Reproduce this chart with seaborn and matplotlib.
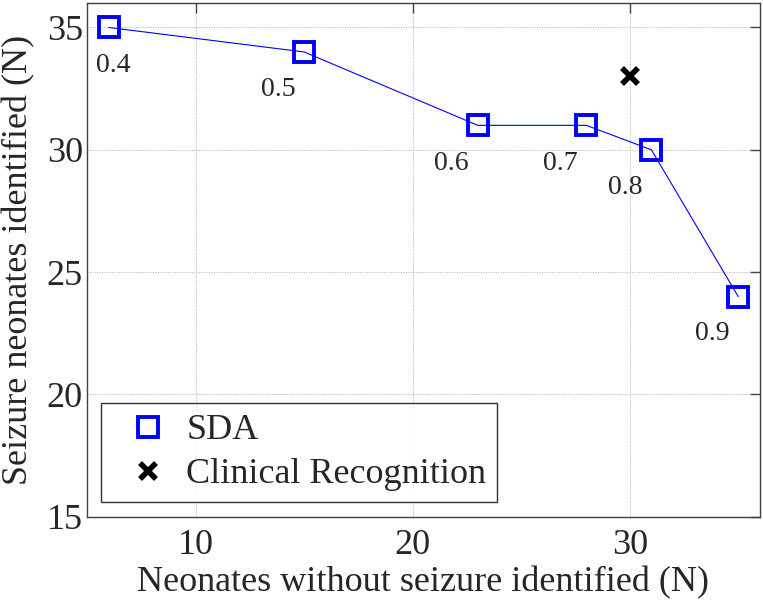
import numpy as np
import pandas as pd
import seaborn as sns
import matplotlib.pyplot as plt

sns.set_style("white")
plt.rcParams['font.family'] = ['Liberation Serif', 'DejaVu Serif']


# DATOS
sda_x      = [6, 15, 23, 28, 31, 35]
sda_y      = [35, 34, 31, 31, 30, 24]
thresholds = ["0.4", "0.5", "0.6", "0.7", "0.8", "0.9"]
label_x    = [6.2, 13.8, 21.8, 26.8, 29.8, 33.8]
label_y    = [33.45, 32.45, 29.45, 29.45, 28.45, 22.5]
clin_x     = [30]
clin_y     = [33]


def graficar(filename):

    fig = plt.figure(figsize=(7.63, 6.03), dpi=100)
    ax  = fig.add_axes([0.114, 0.143, 0.882, 0.852])

    df   = pd.DataFrame({"x": sda_x, "y": sda_y})
    clin = pd.DataFrame({"x": clin_x, "y": clin_y})

    sns.lineplot(data=df, x="x", y="y", color=(0, 0, 1), linewidth=0.8,
                 ax=ax, legend=False, zorder=2)
    ax.plot(df["x"], df["y"], linestyle="none", marker="s", markersize=15,
            markerfacecolor="none", markeredgecolor=(0, 0, 1),
            markeredgewidth=2.8, label="SDA", zorder=3)
    ax.plot(clin["x"], clin["y"], linestyle="none", marker="x", markersize=11,
            markeredgecolor="black", markeredgewidth=4,
            label="Clinical Recognition", zorder=3)

    for tx, ty, s in zip(label_x, label_y, thresholds):
        ax.text(tx, ty, s, ha="center", va="center", fontsize=20)

    ax.set_xlim(5, 36)
    ax.set_ylim(15, 36)
    ax.set_xticks([10, 20, 30])
    ax.set_yticks([15, 20, 25, 30, 35])

    ax.grid(True, color="#b0b0b0", linestyle=(0, (1, 1.5)), linewidth=0.7)
    ax.set_axisbelow(True)
    for sp in ax.spines.values():
        sp.set_color("#404040")
        sp.set_linewidth(1.0)

    ax.tick_params(axis="both", which="major", labelsize=26, direction="in",
                   length=7, width=1, color="#404040", top=True, right=True)
    ax.tick_params(axis="x", pad=9)
    ax.tick_params(axis="y", pad=3)
    ax.set_xlabel("Neonates without seizure identified (N)", fontsize=26,
                  labelpad=3)
    ax.set_ylabel("Seizure neonates identified (N)", fontsize=26, labelpad=8)

    leg = ax.legend(loc="lower left", fontsize=26, frameon=True,
                    fancybox=False, edgecolor="black", borderaxespad=0.4,
                    handletextpad=0.05, handlelength=2.0, labelspacing=0.3,
                    borderpad=0.3)
    leg.get_frame().set_linewidth(1.0)

    fig.savefig(filename, dpi=100)


graficar("out.png")
